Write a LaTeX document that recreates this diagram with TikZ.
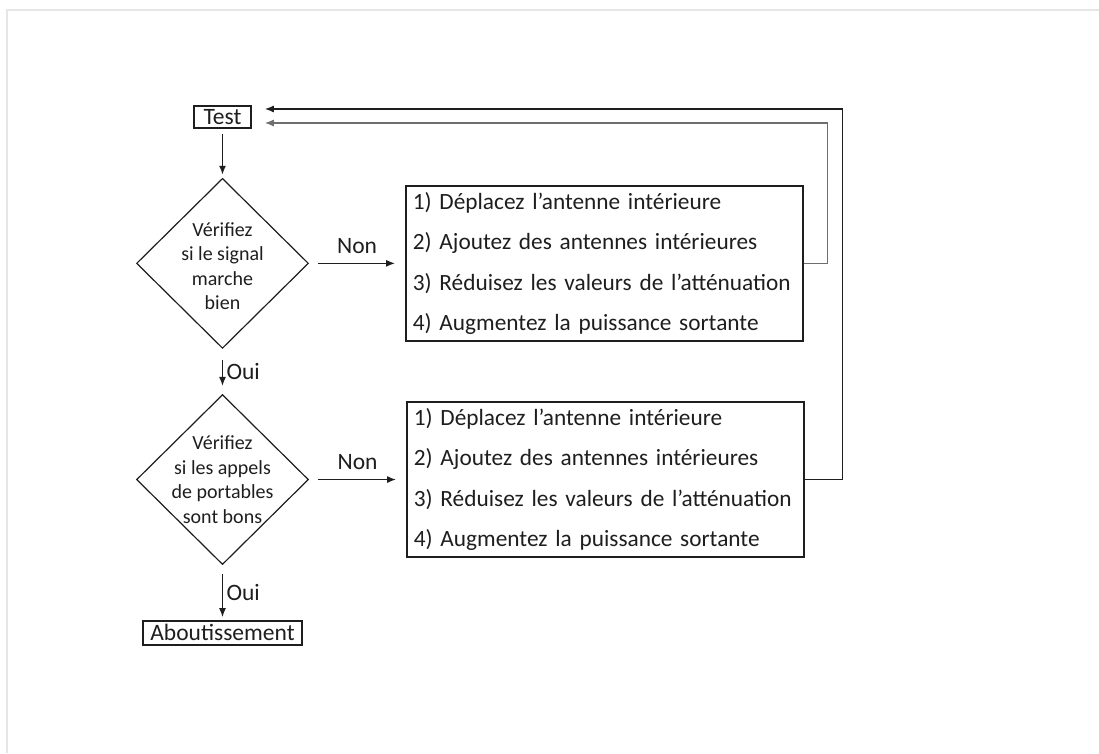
\documentclass[tikz,border=0pt]{standalone}
\usepackage{fontspec}
\setmainfont{Carlito}
\usepackage{tikz}
\usetikzlibrary{arrows.meta,positioning,shapes.geometric}
\definecolor{ink}{RGB}{30,30,30}
\definecolor{backline}{RGB}{110,110,110}
\definecolor{frameline}{RGB}{230,230,230}
\tikzset{
  endbox/.style={draw=ink, line width=1.5pt, inner sep=0pt, minimum height=22pt,
    text=ink, font=\fontsize{23.5}{26}\selectfont},
  decision/.style={diamond, draw=ink, line width=1.2pt, inner sep=0pt,
    minimum width=172pt, minimum height=170pt},
  decisiontext/.style={align=center, text=ink, font=\fontsize{20}{24.5}\selectfont},
  actionbox/.style={draw=ink, line width=1.5pt, minimum width=397pt, minimum height=155pt,
    text width=383pt, align=left, text=ink, font=\fontsize{23.3}{40.5}\selectfont},
  flow/.style={-{Latex[length=9pt,width=7pt]}, line width=1.4pt, draw=ink},
  lbl/.style={text=ink, font=\fontsize{23.5}{26}\selectfont}
}

\begin{document}
\begin{tikzpicture}[x=1pt, y=-1pt, node distance=49pt]
\useasboundingbox (0,0) rectangle (1099,753);
\draw[frameline, line width=2pt] (7,753) -- (7,10) -- (1099,10);

\node[endbox, minimum width=57pt] (test) at (222.5,117) {Test};
\node[decision, below=49pt of test] (check1) {};
\node[decisiontext] (check1txt) at ([yshift=-3pt]check1.center)
{Vérifiez\\si le signal\\marche\\bien};
\node[decision, below=45pt of check1] (check2) {};
\node[decisiontext] (check2txt) at (check2.center)
{Vérifiez\\si les appels\\de portables\\sont bons};
\node[endbox, minimum width=159pt, minimum height=24pt, below=55pt of check2] (done)
{Aboutissement};

\node[actionbox, right=96pt of check1] (fix1)
{1) Déplacez l’antenne intérieure\\2) Ajoutez des antennes intérieures\\3) Réduisez les valeurs de l’atténuation\\4) Augmentez la puissance sortante};
\node[actionbox, right=97pt of check2] (fix2)
{1) Déplacez l’antenne intérieure\\2) Ajoutez des antennes intérieures\\3) Réduisez les valeurs de l’atténuation\\4) Augmentez la puissance sortante};

\draw[flow, shorten <=5pt, shorten >=3pt] (test.south) -- (check1.north);
\draw[flow, shorten <=11pt, shorten >=8pt] (check1) -- node[lbl, right]{Oui} (check2);
\draw[flow, shorten <=9pt, shorten >=3pt] (check2) -- node[lbl, right]{Oui} (done);
\draw[flow, shorten <=9pt, shorten >=10pt] (check1) -- node[lbl, above=6pt]{Non} (fix1);
\draw[flow, shorten <=9pt, shorten >=10pt] (check2) -- node[lbl, above=6pt]{Non} (fix2);
\draw[flow, draw=backline, shorten >=13pt] (fix1.east) -- ++(24,0) |- ([yshift=-6pt]test.east);
\draw[flow, shorten >=13pt] (fix2.east) -- ++(38,0) |- ([yshift=8pt]test.east);
\end{tikzpicture}
\end{document}
